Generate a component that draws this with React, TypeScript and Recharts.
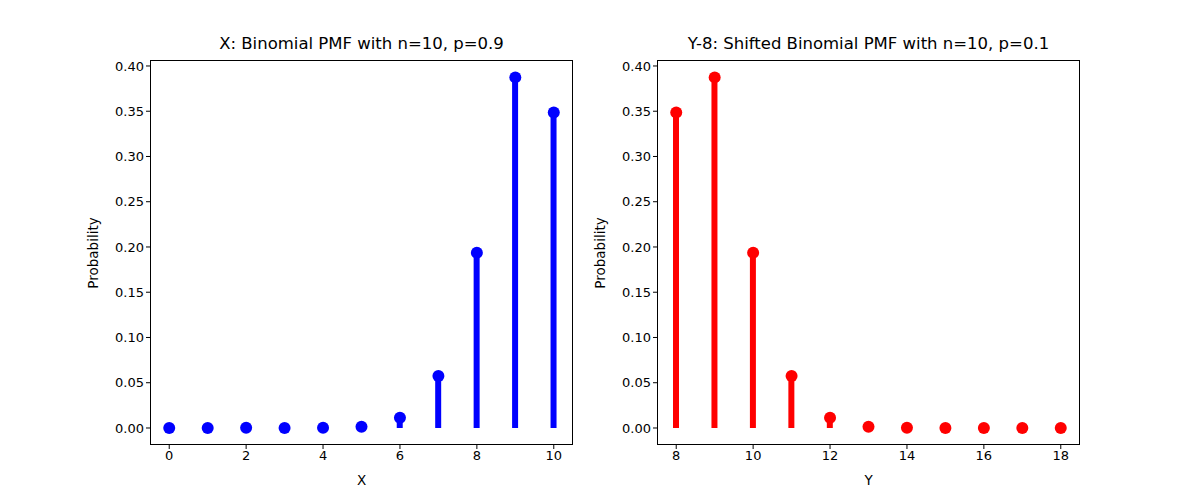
import { ComposedChart, Bar, Scatter, XAxis, YAxis } from 'recharts'

const xValues = [0, 1, 2, 3, 4, 5, 6, 7, 8, 9, 10]
const xProbs = [0.0000001, 0.000009, 0.00036, 0.0087, 0.000138, 0.00149, 0.0112, 0.0574, 0.1937, 0.3874, 0.3487]
xProbs[3] = 0.0000087
const yValues = [8, 9, 10, 11, 12, 13, 14, 15, 16, 17, 18]
const yProbs = [0.3487, 0.3874, 0.1937, 0.0574, 0.0112, 0.00149, 0.000138, 0.0000087, 0.00000036, 0.000009, 0.0000001]
yProbs[8] = 0.00036 / 1000
const yTicks = [0, 0.05, 0.1, 0.15, 0.2, 0.25, 0.3, 0.35, 0.4]
const xTicksLeft = [0, 2, 4, 6, 8, 10]
const xTicksRight = [8, 10, 12, 14, 16, 18]

const FONT = 'DejaVu Sans, sans-serif'
const tick = { fontSize: 13, fill: '#000', fontFamily: FONT }

function Panel({ xs, ps, color, ticks, domain, title, xLabel, left, marginLeft }: any) {
  const data = xs.map((x: number, i: number) => ({ x, p: ps[i] }))
  const plotLeft = marginLeft + 60
  return (
    <div style={{ position: 'absolute', left, top: 0, width: 600, height: 500 }}>
      <ComposedChart width={600} height={500} data={data}
        margin={{ top: 60, right: 600 - plotLeft - 423, bottom: 25, left: marginLeft }}>
        <XAxis dataKey="x" type="number" domain={domain} ticks={ticks} height={30}
          tick={tick} tickSize={4} axisLine={false} tickLine={{ stroke: '#000' }} />
        <YAxis type="number" domain={[-0.0188, 0.4066]} ticks={yTicks} width={60}
          tickFormatter={(v: number) => v.toFixed(2)} tick={tick} tickSize={4}
          axisLine={false} tickLine={{ stroke: '#000' }} allowDataOverflow />
        <Bar dataKey="p" fill={color} barSize={6} isAnimationActive={false} />
        <Scatter dataKey="p" fill={color} isAnimationActive={false}
          shape={(pr: any) => <circle cx={pr.cx} cy={pr.cy} r={6} fill={color} />} />
      </ComposedChart>
      <div style={{ position: 'absolute', left: plotLeft, top: 60, width: 423, height: 385,
        border: '1px solid #000', boxSizing: 'border-box', pointerEvents: 'none' }} />
      <div style={{ position: 'absolute', left: plotLeft, top: 34, width: 423, textAlign: 'center',
        fontFamily: FONT, fontSize: 16.5 }}>{title}</div>
      <div style={{ position: 'absolute', left: plotLeft, top: 472, width: 423, textAlign: 'center',
        fontFamily: FONT, fontSize: 13.5 }}>{xLabel}</div>
      <div style={{ position: 'absolute', left: plotLeft - 60 - 50 + 3, top: 245, width: 100, textAlign: 'center',
        fontFamily: FONT, fontSize: 13.5, transform: 'rotate(-90deg)' }}>Probability</div>
    </div>
  )
}

export default function App() {
  return (
    <div style={{ position: 'absolute', left: 0, top: 0, width: 1200, height: 500, background: '#fff' }}>
      <Panel xs={xValues} ps={xProbs} color="#0000ff" ticks={xTicksLeft} domain={[-0.5, 10.5]}
        title="X: Binomial PMF with n=10, p=0.9" xLabel="X" left={0} marginLeft={90} />
      <Panel xs={yValues} ps={yProbs} color="#ff0000" ticks={xTicksRight} domain={[7.5, 18.5]}
        title="Y-8: Shifted Binomial PMF with n=10, p=0.1" xLabel="Y" left={600} marginLeft={-3} />
    </div>
  )
}
